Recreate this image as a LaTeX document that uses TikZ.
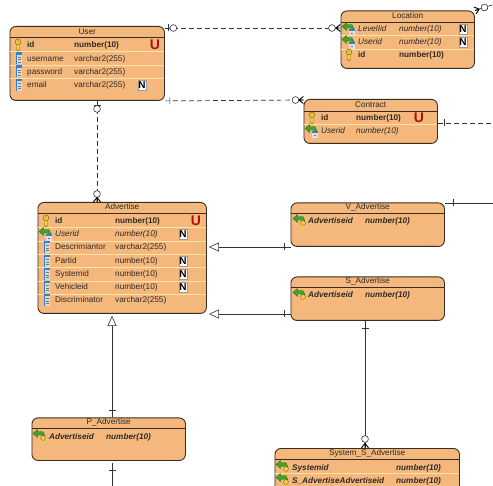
\documentclass[tikz,border=0pt]{standalone}
\usepackage{fontspec}
\setmainfont{Liberation Sans}
\usetikzlibrary{arrows.meta,decorations.markings}
\definecolor{entityfill}{HTML}{F4B77C}
\definecolor{entityline}{HTML}{3A2C20}
\definecolor{rowline}{HTML}{FFE2A6}
\definecolor{inktext}{HTML}{2E2A26}
\definecolor{connline}{HTML}{333333}
\definecolor{keygold}{HTML}{F2CE45}
\definecolor{keyedge}{HTML}{8A6A10}
\definecolor{arrowgreen}{HTML}{3FA52A}
\definecolor{arrowedge}{HTML}{1E6A14}
\definecolor{colblue}{HTML}{2F7FD6}
\definecolor{uniquered}{HTML}{B01010}
\tikzset{every node/.style={font=\fontsize{8.2}{9}\selectfont,text=inktext,inner sep=0pt},
  entity/.style={draw=entityline,fill=entityfill,line width=.9pt,rounded corners=6pt,anchor=north west},
  titleline/.style={draw=entityline,line width=.8pt},
  rowline/.style={draw=rowline,line width=.8pt},
  plain/.style={anchor=base west},
  pk/.style={anchor=base west,font=\fontsize{8.2}{9}\selectfont\bfseries},
  fk/.style={anchor=base west,font=\fontsize{8.2}{9}\selectfont\itshape},
  fkpk/.style={anchor=base west,font=\fontsize{8.2}{9}\selectfont\bfseries\itshape},
  nullmark/.style={draw=black!40,fill=white,minimum width=7.5pt,minimum height=10pt,
    font=\fontsize{10}{10}\selectfont\bfseries,text=black},
  uniquemark/.style={font=\fontsize{14}{14}\selectfont\bfseries,text=uniquered},
  conn/.style={draw=connline,line width=.7pt},
  dashconn/.style={conn,dash pattern=on 5pt off 3pt},
  tickat/.style={postaction={-,shorten >=0pt,decorate,decoration={markings,mark=at position #1 with
    {\draw[solid,draw=connline,line width=.6pt] (0,-3.5pt)--(0,3.5pt);}}}},
  circat/.style={postaction={-,shorten >=0pt,decorate,decoration={markings,mark=at position #1 with
    {\draw[solid,draw=connline,fill=white,line width=.6pt] (0,0) circle (3.4pt);}}}},
  crowend/.style={postaction={decorate,decoration={markings,mark=at position -.1pt with
    {\draw[solid,draw=black,line width=.9pt] (0,-3.5pt)--(-4.5pt,0)--(0,3.5pt) (-4.5pt,0)--(0,0);}}}},
  isa/.style={conn,shorten >=2pt,-{Triangle[open,fill=white,length=10pt,width=9pt,line width=.6pt]}},
  pics/keyicon/.style={code={
    \draw[keyedge,fill=keygold,line width=.4pt] (-1.5,-1.5)--(1.5,-1.5)--(1.5,4.5)--(0,6)--(-1.5,4.5)--cycle;
    \draw[keyedge,fill=keygold,line width=.5pt] (0,-3.2) circle (2.8);
    \fill[keyedge] (0,-3.8) circle (.7);}},
  pics/colicon/.style={code={
    \fill[black!15] (-3,-6) rectangle (3,6);
    \fill[colblue] (-3,-6) rectangle (3,-3.5);
    \fill[colblue] (-3,-6) rectangle (-2,6);
    \foreach \d in {-1.5,1,3.5}{\fill[black!55] (-.8,\d) rectangle (1.5,\d+1);}}},
  pics/greenarrow/.style={code={
    \draw[arrowedge,fill=arrowgreen,line width=.3pt] (-7,-2.5)--(-2.5,-6.5)--(-2.5,-4.3)--(3,-4.3)--(5,0)--(1,-.9)--(-2.5,-.9)--(-2.5,1.5)--cycle;}},
  pics/fkicon/.style={code={
    \fill[black!12] (0,0) rectangle (6,7);
    \fill[colblue] (0,0) rectangle (6,2);
    \fill[black!55] (2,4) rectangle (4,5);
    \pic at (0,0) {greenarrow};}},
  pics/fkkeyicon/.style={code={
    \pic at (0,0) {greenarrow};
    \fill[keygold] (2,2) rectangle (4,7);
    \draw[keyedge,fill=keygold,line width=.4pt] (3,2) circle (2.4);}}}
\begin{document}
\begin{tikzpicture}[x=1pt,y=-1pt]
\clip (0,0) rectangle (493,486);
% entities
\node[entity,minimum width=154.5pt,minimum height=74pt] (user) at (9.5,26) {};
\node[entity,minimum width=133.5pt,minimum height=57.5pt] (location) at (340.5,10.5) {};
\node[entity,minimum width=133.5pt,minimum height=44pt] (contract) at (303.5,99) {};
\node[entity,minimum width=168.5pt,minimum height=111pt] (advertise) at (37.5,202) {};
\node[entity,minimum width=153.5pt,minimum height=43.5pt] (vadvertise) at (290.5,202.5) {};
\node[entity,minimum width=153.5pt,minimum height=43.5pt] (sadvertise) at (290.5,276.5) {};
\node[entity,minimum width=153.5pt,minimum height=42.5pt] (padvertise) at (31.5,417.5) {};
\node[entity,minimum width=184.5pt,minimum height=60pt] (systemsadv) at (274.5,448) {};
% titles
\foreach \ent/\lab/\yy in {user/User/31.5,location/Location/15.5,contract/Contract/104.5,
  advertise/Advertise/207,vadvertise/V\_Advertise/207,sadvertise/S\_Advertise/281,
  padvertise/P\_Advertise/422,systemsadv/System\_S\_Advertise/453}{
\path (\ent.west|-0,\yy) -- (\ent.east|-0,\yy) node[midway] (\ent-label) {\lab};
}
% title rules and row rules
\foreach \ent/\yy in {user/37.5,location/22.5,contract/111,advertise/213.5,vadvertise/213.5,
  sadvertise/287.5,padvertise/428,systemsadv/459.5}{
\draw[titleline] (\ent.west|-0,\yy)--(\ent.east|-0,\yy);
}
\foreach \ent/\yy in {user/51.5,user/65,user/78,location/35,location/49,contract/124,
  advertise/227,advertise/241,advertise/254,advertise/267.5,advertise/281,advertise/294,systemsadv/473}{
\draw[rowline] ([xshift=.5pt]\ent.west|-0,\yy)--([xshift=-.5pt]\ent.east|-0,\yy);
}
% columns: id/icon/style/y/icon x/name/name x/type/type x
\foreach \id/\ic/\st/\yy/\ix/\nm/\nx/\ty/\tx in {
  ua/keyicon/pk/45/18/id/27/number(10)/74,
  ub/colicon/plain/58.5/19/username/27/varchar2(255)/74,
  uc/colicon/plain/71.5/19/password/27/varchar2(255)/74,
  ud/colicon/plain/85/19/email/27/varchar2(255)/74,
  la/fkicon/fk/29/349/LevelIid/358/number(10)/399,
  lb/fkicon/fk/42/349/Userid/358/number(10)/399,
  lc/keyicon/pk/55/349/id/358/number(10)/399,
  ca/keyicon/pk/118/312/id/321/number(10)/356,
  cb/fkicon/fk/131/312/Userid/321/number(10)/356,
  aa/keyicon/pk/221/46/id/55/number(10)/115,
  ab/fkicon/fk/234/46/Userid/55/number(10)/115,
  ac/colicon/plain/247/47/Descrimiantor/55/varchar2(255)/115,
  ad/colicon/plain/261/47/Partid/55/number(10)/115,
  ae/colicon/plain/274/47/Systemid/55/number(10)/115,
  af/colicon/plain/287/47/Vehicleid/55/number(10)/115,
  ag/colicon/plain/300/47/Discriminator/55/varchar2(255)/115,
  va/fkkeyicon/fkpk/221/300/Advertiseid/308/number(10)/365,
  sa/fkkeyicon/fkpk/295/300/Advertiseid/308/number(10)/365,
  pa/fkkeyicon/fkpk/436/40/Advertiseid/49/number(10)/106,
  ya/fkkeyicon/fkpk/467/283/Systemid/292/number(10)/396,
  yb/fkkeyicon/fkpk/480/283/S\_AdvertiseAdvertiseid/292/number(10)/396}{
\pic at (\ix,\yy) {\ic};
\node[\st] (\id-name) at (\nx,\yy+3) {\nm};
\node[\st] (\id-type) at (\tx,\yy+3) {\ty};
}
% null and unique marks
\foreach \id/\xx/\yy in {ud/142/85,la/463/29,lb/463/42,ab/183/234,ad/183/261,ae/183/274,af/183/287}{
\node[nullmark] (\id-null) at (\xx,\yy) {N};
}
\foreach \id/\xx/\yy in {ua/155/45,ca/419/118,aa/196/221}{
\node[uniquemark] (\id-uniq) at (\xx,\yy) {U};
}
% free ends
\coordinate (contractout) at (493,123);
\coordinate (vout) at (493,203);
\coordinate (locationout) at (492,5);
\coordinate (pout) at (112,486);
% relations
\draw[dashconn,tickat=3.5pt,circat=8.5pt,circat=-8.5pt,crowend]
  ([yshift=-2pt]user.north east)--([yshift=-17.5pt]location.north west);
\draw[dashconn,tickat=5pt,circat=-8pt,crowend]
  (user.south east)--([yshift=-1pt]contract.north west);
\draw[dashconn,tickat=4pt,circat=8pt,circat=-8pt,crowend] (user.south-|97,0)--(advertise.north-|97,0);
\draw[dashconn,tickat=6pt] ([yshift=-24pt]contract.north east)--(contractout);
\draw[dashconn,circat=-10pt,crowend] (locationout)--(location.north east);
\draw[isa,tickat=6pt] ([yshift=-44.5pt]vadvertise.north west)--(advertise.east|-0,247);
\draw[isa,tickat=6pt] ([yshift=-37.5pt]sadvertise.north west)--(advertise.east|-0,314);
\draw[isa,tickat=7pt] (padvertise.north-|112,0)--(advertise.south-|112,0);
\draw[conn,tickat=8pt] ([yshift=-.5pt]vadvertise.north east)--(vout);
\draw[conn,tickat=7pt] ([yshift=-2pt]padvertise.south-|112,0)--(pout);
\draw[conn,tickat=7pt,circat=-9pt,crowend] (sadvertise.south-|365,0)--(systemsadv.north-|365,0);
\end{tikzpicture}
\end{document}
